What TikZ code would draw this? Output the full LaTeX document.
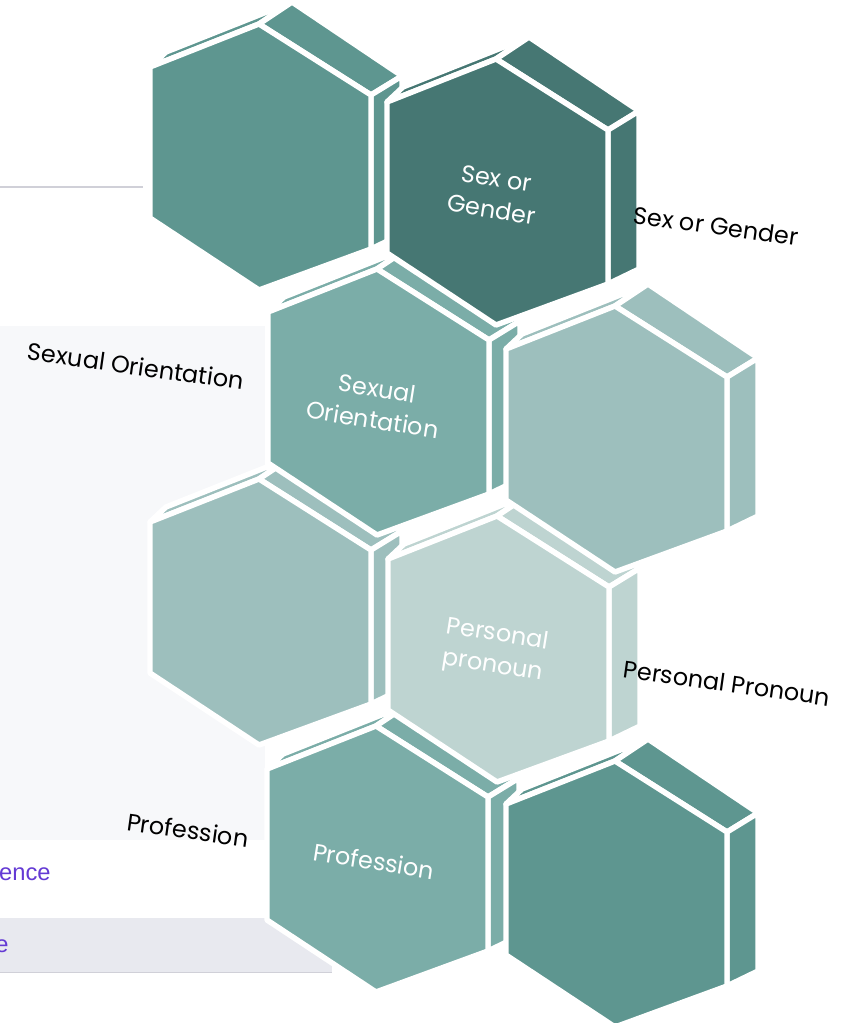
\documentclass[tikz,border=0pt]{standalone}
\usepackage{fontspec}
\setmainfont{Poppins}
\newfontfamily\uifont{Liberation Sans}
\definecolor{hexdeep}{RGB}{70,119,115}
\definecolor{hexmid}{RGB}{94,150,144}
\definecolor{hexsoft}{RGB}{123,173,168}
\definecolor{hexpale}{RGB}{157,191,189}
\definecolor{hexmist}{RGB}{190,212,209}
\definecolor{panelgray}{RGB}{247,248,250}
\definecolor{bargray}{RGB}{232,233,239}
\definecolor{rulegray}{RGB}{208,208,216}
\definecolor{linkpurple}{RGB}{100,58,212}

\tikzset{
  face/.style={fill=#1,draw=white,line width=3.1pt,line join=round},
  hexlabel/.style={text=white,align=center,rotate=-9,inner sep=0pt,
    font=\fontsize{13.6}{18}\selectfont},
  sidelabel/.style={text=black,rotate=-8,inner sep=0pt,
    font=\fontsize{13.6}{18}\selectfont},
  linklabel/.style={text=linkpurple,anchor=east,inner sep=0pt,
    font=\uifont\fontsize{13.5}{16}\selectfont}
}

% #1 = front top-left corner, #2 = colour, #3 = name of the centre
\newcommand{\hexprism}[3]{%
  \begin{scope}[shift={(#1)}]
    \draw[face=#2] (0,0) -- (109,-43) -- (142,-65) -- (16,-15) -- cycle;
    \draw[face=#2] (109,-43) -- (221,28) -- (252,9) -- (142,-65) -- cycle;
    \draw[face=#2] (221,28) -- (221,182) -- (252,167) -- (252,9) -- cycle;
    \draw[face=#2] (0,0) -- (109,-43) -- (221,28) -- (221,182) -- (109,223) -- (0,151) -- cycle;
    \coordinate (#3) at (107,92);
  \end{scope}}

\begin{document}
\begin{tikzpicture}[x=0.02cm,y=-0.02cm]
  \useasboundingbox (0,0) rectangle (851,1023);

  % page behind the cluster
  \draw[rulegray,line width=1pt] (0,187) -- (143,187);
  \fill[panelgray] (0,326) rectangle (265,840);
  \fill[bargray] (0,918) rectangle (332,973);
  \draw[rulegray,line width=1pt] (0,972.5) -- (332,972.5);
  \node[linklabel] (refence) at (51,874) {ence};
  \node[linklabel] (refe) at (9,946) {e};

  % hexagons, column by column
  \hexprism{150,67}{hexmid}{h1}
  \hexprism{150,522}{hexpale}{h5}
  \hexprism{268,312}{hexsoft}{h3}
  \hexprism{267,769}{hexsoft}{h7}
  \hexprism{387,102}{hexdeep}{h2}
  \hexprism{388,559}{hexmist}{h6}
  \hexprism{506,349}{hexpale}{h4}
  \hexprism{506,804}{hexmid}{h8}

  \node[hexlabel] (sexin) at (h2) {Sex or\\Gender};
  \node[hexlabel] (orientin) at (h3) {Sexual\\Orientation};
  \node[hexlabel] (pronounin) at (h6) {Personal\\pronoun};
  \node[hexlabel] (profin) at (h7) {Profession};

  \node[sidelabel] (sexout) at (716,226) {Sex or Gender};
  \node[sidelabel] (orientout) at (136,366) {Sexual Orientation};
  \node[sidelabel] (pronounout) at (727,683) {Personal Pronoun};
  \node[sidelabel] (profout) at (188,830) {Profession};
\end{tikzpicture}
\end{document}
